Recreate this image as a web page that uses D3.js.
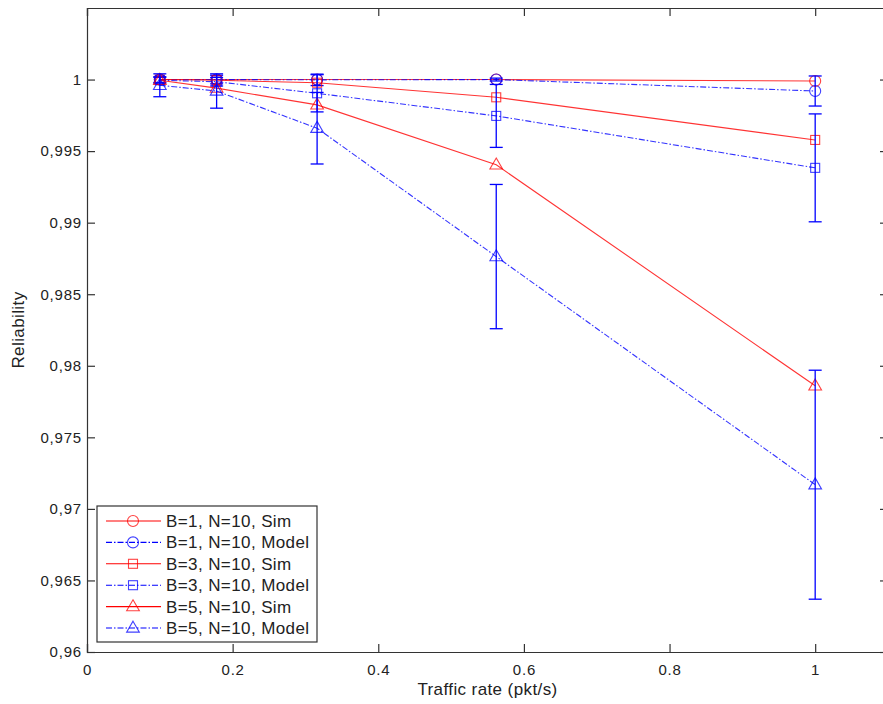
<!DOCTYPE html>
<html>
<head>
<meta charset="utf-8">
<script src="https://cdn.jsdelivr.net/npm/d3@7"></script>
<style>
  body { margin: 0; background: #fff; }
  svg { font-family: "Liberation Sans", Arial, sans-serif; }
</style>
</head>
<body>
<svg id="chart" width="883" height="704"></svg>
<script>
// traffic rates (log spaced)
var xVals = [0.1, 0.178, 0.316, 0.562, 1];

var b1Sim = [1.0, 1.0, 1.0, 1.0, 0.9999];
var b1Model = [1.0, 1.0, 0.99998, 1.0, 0.9992];
var b1ModelErr = [0.0002, 0.0003, 0.0004, 0.0001, 0.00105];

var b3Sim = [1.0, 0.99995, 0.99978, 0.99876, 0.99578];
var b3Model = [0.99995, 0.99985, 0.99904, 0.99746, 0.99383];
var b3ModelErr = [0.0002, 0.0003, 0.0013, 0.0022, 0.00377];

var b5Sim = [0.99995, 0.9994, 0.99823, 0.99404, 0.9786];
var b5Model = [0.9996, 0.9992, 0.9966, 0.98763, 0.97169];
var b5ModelErr = [0.0008, 0.0012, 0.0025, 0.00504, 0.008];

var xTicks = [0, 0.2, 0.4, 0.6, 0.8, 1];
var yTicks = [0.96, 0.965, 0.97, 0.975, 0.98, 0.985, 0.99, 0.995, 1];

var seriesNames = ["B=1, N=10, Sim", "B=1, N=10, Model", "B=3, N=10, Sim",
                   "B=3, N=10, Model", "B=5, N=10, Sim", "B=5, N=10, Model"];

var dashDot = "6,2,1.5,2";
var series = [
  { name: seriesNames[0], vals: b1Sim, color: "#ff0000", marker: "circle", dash: null },
  { name: seriesNames[1], vals: b1Model, err: b1ModelErr, color: "#0000ff", marker: "circle", dash: dashDot },
  { name: seriesNames[2], vals: b3Sim, color: "#ff0000", marker: "square", dash: null },
  { name: seriesNames[3], vals: b3Model, err: b3ModelErr, color: "#0000ff", marker: "square", dash: dashDot },
  { name: seriesNames[4], vals: b5Sim, color: "#ff0000", marker: "triangle", dash: null },
  { name: seriesNames[5], vals: b5Model, err: b5ModelErr, color: "#0000ff", marker: "triangle", dash: dashDot }
];

var svg = d3.select("#chart");
var mLeft = 87, mRight = 888, mTop = 8, mBottom = 652;

var x = d3.scaleLinear().domain([0, 1.1]).range([mLeft, mRight]);
var y = d3.scaleLinear().domain([0.96, 1.005]).range([mBottom, mTop]);

var axisColor = "#333";
var textColor = "#222";

function fmtY(d) {
  return d3.format(".3~f")(d).replace(".", ",");
}

// axes, MATLAB style box with inward ticks
var xAxisB = svg.append("g").attr("transform", "translate(0," + mBottom + ")")
  .call(d3.axisBottom(x).tickValues(xTicks).tickSize(-8).tickPadding(12).tickFormat(d3.format("~g")));
var xAxisT = svg.append("g").attr("transform", "translate(0," + mTop + ")")
  .call(d3.axisTop(x).tickValues(xTicks).tickSize(-8).tickFormat(""));
var yAxisL = svg.append("g").attr("transform", "translate(" + mLeft + ",0)")
  .call(d3.axisLeft(y).tickValues(yTicks).tickSize(-8).tickPadding(5).tickFormat(fmtY));
var yAxisR = svg.append("g").attr("transform", "translate(" + mRight + ",0)")
  .call(d3.axisRight(y).tickValues(yTicks).tickSize(-8).tickFormat(""));

[xAxisB, xAxisT, yAxisL, yAxisR].forEach(function (g) {
  g.select(".domain").attr("stroke", axisColor).attr("stroke-width", 1.2);
  g.selectAll(".tick line").attr("stroke", axisColor).attr("stroke-width", 1.2);
  g.selectAll("text").attr("fill", textColor).style("font-size", "15px")
    .style("letter-spacing", "0.8px")
    .style("font-family", "'Liberation Sans', Arial, sans-serif");
});

// axis titles
svg.append("text")
  .attr("x", (mLeft + mRight) / 2)
  .attr("y", 695)
  .attr("text-anchor", "middle")
  .attr("fill", textColor)
  .style("font-size", "17px")
  .style("letter-spacing", "0.4px")
  .text("Traffic rate (pkt/s)");

svg.append("text")
  .attr("transform", "translate(24,330) rotate(-90)")
  .attr("text-anchor", "middle")
  .attr("fill", textColor)
  .style("font-size", "17px")
  .style("letter-spacing", "0.4px")
  .text("Reliability");

function drawMarker(g, type, cx, cy, color) {
  var m;
  if (type === "circle") {
    m = g.append("circle").attr("cx", cx).attr("cy", cy).attr("r", 5.5);
  } else if (type === "square") {
    m = g.append("rect").attr("x", cx - 4.5).attr("y", cy - 4.5).attr("width", 9).attr("height", 9);
  } else {
    var sym = d3.symbol().type(d3.symbolTriangle).size(70);
    m = g.append("path").attr("d", sym()).attr("transform", "translate(" + cx + "," + (cy + 0.5) + ")");
  }
  m.attr("fill", "none").attr("stroke", color).attr("stroke-width", 1.1).attr("opacity", 0.75);
}

var line = d3.line()
  .x(function (d, i) { return x(xVals[i]); })
  .y(function (d) { return y(d); });

var plot = svg.append("g");

series.forEach(function (s) {
  var g = plot.append("g");
  g.append("path")
    .attr("d", line(s.vals))
    .attr("fill", "none")
    .attr("stroke", s.color)
    .attr("stroke-width", 1.1)
    .attr("stroke-dasharray", s.dash)
    .attr("opacity", 0.8);

  if (s.err) {
    s.vals.forEach(function (v, i) {
      var cx = x(xVals[i]);
      var y1 = y(v + s.err[i]), y2 = y(v - s.err[i]);
      g.append("line").attr("x1", cx).attr("x2", cx).attr("y1", y1).attr("y2", y2)
        .attr("stroke", s.color).attr("stroke-width", 1.3);
      [y1, y2].forEach(function (yy) {
        g.append("line").attr("x1", cx - 6.5).attr("x2", cx + 6.5).attr("y1", yy).attr("y2", yy)
          .attr("stroke", s.color).attr("stroke-width", 1.3);
      });
    });
  }

  s.vals.forEach(function (v, i) {
    drawMarker(g, s.marker, x(xVals[i]), y(v), s.color);
  });
});

// legend
var legend = svg.append("g").attr("transform", "translate(97,506)");
legend.append("rect")
  .attr("x", 0).attr("y", 0).attr("width", 220).attr("height", 136)
  .attr("fill", "#fff").attr("stroke", axisColor).attr("stroke-width", 1.2);

series.forEach(function (s, i) {
  var ly = 15 + i * 21.4;
  var row = legend.append("g");
  row.append("line")
    .attr("x1", 9).attr("x2", 64).attr("y1", ly).attr("y2", ly)
    .attr("stroke", s.color).attr("stroke-width", 1.1)
    .attr("stroke-dasharray", s.dash);
  drawMarker(row, s.marker, 36, ly, s.color);
  row.append("text")
    .attr("x", 69).attr("y", ly + 6)
    .attr("fill", textColor)
    .style("font-size", "17px")
    .style("letter-spacing", "0.4px")
    .text(s.name);
});
</script>
</body>
</html>
